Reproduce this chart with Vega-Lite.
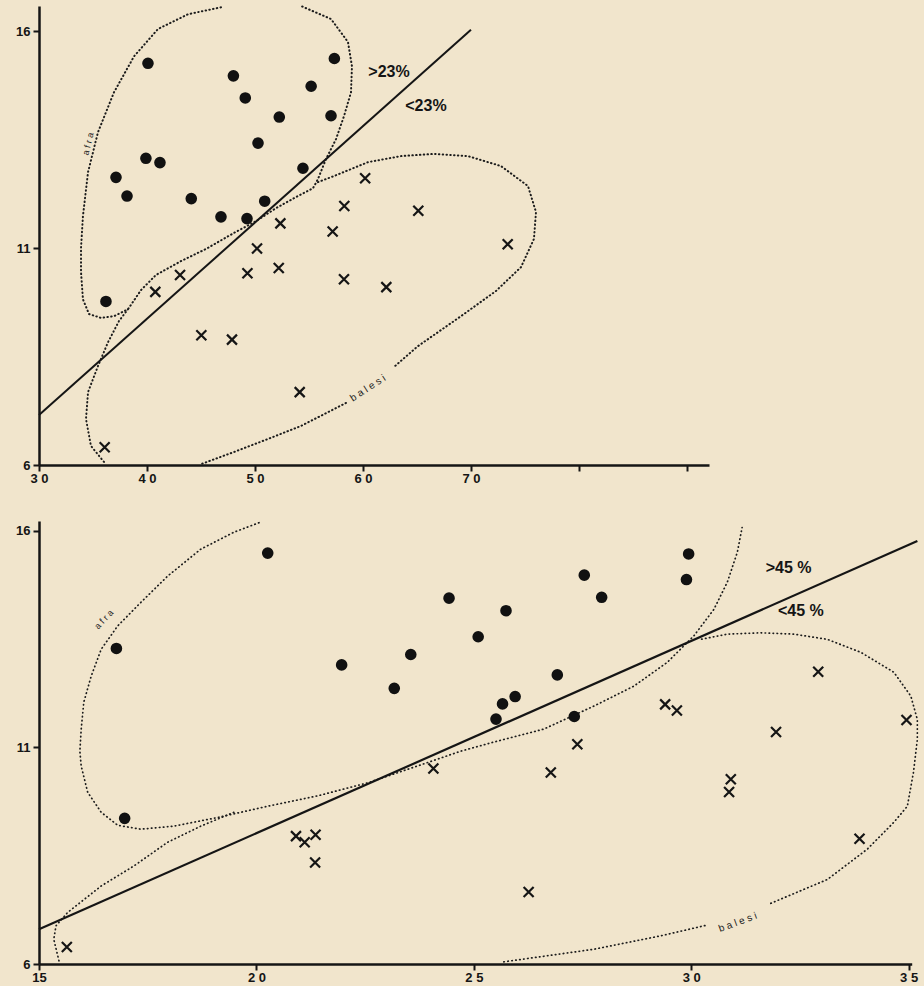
{
 "$schema": "https://vega.github.io/schema/vega-lite/v6.json",
 "background": "#f1e5cc",
 "padding": {"left": 15, "top": 2, "right": 4, "bottom": 2},
 "bounds": "flush",
 "spacing": 56,
 "config": {
  "view": {"stroke": null},
  "axis": {"grid": false, "domainColor": "#151515", "domainWidth": 2.5, "tickColor": "#151515", "tickWidth": 2, "tickSize": 6, "labelFont": "Liberation Sans", "labelFontWeight": "bold", "labelFontSize": 13, "labelColor": "#151515", "labelFlush": false, "labelOverlap": false, "labelPadding": 1, "title": null},
  "text": {"font": "Liberation Sans"}
 },
 "datasets": {
  "top_pts": [
   {"sp":"afra","x":40.09,"y":15.26},{"sp":"afra","x":48.0,"y":14.97},{"sp":"afra","x":57.35,"y":15.37},{"sp":"afra","x":55.2,"y":14.73},{"sp":"afra","x":49.1,"y":14.46},{"sp":"afra","x":52.25,"y":14.02},{"sp":"afra","x":57.04,"y":14.05},{"sp":"afra","x":50.28,"y":13.42},{"sp":"afra","x":39.9,"y":13.07},{"sp":"afra","x":41.2,"y":12.97},{"sp":"afra","x":37.13,"y":12.63},{"sp":"afra","x":54.44,"y":12.84},{"sp":"afra","x":38.15,"y":12.2},{"sp":"afra","x":44.1,"y":12.14},{"sp":"afra","x":50.9,"y":12.08},{"sp":"afra","x":46.85,"y":11.72},{"sp":"afra","x":49.26,"y":11.68},{"sp":"afra","x":36.2,"y":9.77},
   {"sp":"balesi","x":60.2,"y":12.61},{"sp":"balesi","x":58.27,"y":11.97},{"sp":"balesi","x":65.12,"y":11.86},{"sp":"balesi","x":57.19,"y":11.38},{"sp":"balesi","x":73.4,"y":11.09},{"sp":"balesi","x":52.35,"y":11.57},{"sp":"balesi","x":50.19,"y":10.99},{"sp":"balesi","x":43.06,"y":10.38},{"sp":"balesi","x":49.3,"y":10.42},{"sp":"balesi","x":52.2,"y":10.54},{"sp":"balesi","x":58.24,"y":10.28},{"sp":"balesi","x":62.16,"y":10.1},{"sp":"balesi","x":40.77,"y":9.99},{"sp":"balesi","x":45.03,"y":8.99},{"sp":"balesi","x":47.87,"y":8.89},{"sp":"balesi","x":54.14,"y":7.68},{"sp":"balesi","x":36.08,"y":6.41}
  ],
  "top_fit": [{"x":30,"y":7.15},{"x":70,"y":16.03}],
  "top_curves": [
   {"seg":"afra","o":1,"x":46.85,"y":16.55},{"seg":"afra","o":2,"x":43.8,"y":16.39},{"seg":"afra","o":3,"x":41.02,"y":16.05},{"seg":"afra","o":4,"x":38.8,"y":15.42},{"seg":"afra","o":5,"x":36.94,"y":14.59},{"seg":"afra","o":6,"x":35.46,"y":13.67},{"seg":"afra","o":7,"x":34.54,"y":12.75},{"seg":"afra","o":8,"x":34.07,"y":11.74},{"seg":"afra","o":9,"x":33.89,"y":11.0},{"seg":"afra","o":10,"x":33.89,"y":10.45},{"seg":"afra","o":11,"x":34.07,"y":9.82},{"seg":"afra","o":12,"x":34.63,"y":9.48},{"seg":"afra","o":13,"x":35.74,"y":9.39},{"seg":"afra","o":14,"x":36.94,"y":9.43},{"seg":"afra","o":15,"x":38.24,"y":9.59},{"seg":"afra","o":16,"x":39.44,"y":10.03},{"seg":"afra","o":17,"x":40.83,"y":10.38},{"seg":"afra","o":18,"x":43.15,"y":10.7},{"seg":"afra","o":19,"x":45.46,"y":10.98},{"seg":"afra","o":20,"x":48.06,"y":11.35},{"seg":"afra","o":21,"x":50.09,"y":11.62},{"seg":"afra","o":22,"x":51.94,"y":11.92},{"seg":"afra","o":23,"x":53.98,"y":12.2},{"seg":"afra","o":24,"x":55.37,"y":12.38},{"seg":"afra","o":25,"x":55.83,"y":12.59},{"seg":"afra","o":26,"x":56.57,"y":13.05},{"seg":"afra","o":27,"x":57.5,"y":13.51},{"seg":"afra","o":28,"x":58.24,"y":14.04},{"seg":"afra","o":29,"x":58.89,"y":14.59},{"seg":"afra","o":30,"x":58.98,"y":15.19},{"seg":"afra","o":31,"x":58.61,"y":15.75},{"seg":"afra","o":32,"x":57.04,"y":16.28},{"seg":"afra","o":33,"x":54.26,"y":16.58},
   {"seg":"b1","o":1,"x":55.83,"y":12.52},{"seg":"b1","o":2,"x":57.31,"y":12.66},{"seg":"b1","o":3,"x":60.46,"y":12.98},{"seg":"b1","o":4,"x":63.52,"y":13.12},{"seg":"b1","o":5,"x":66.57,"y":13.17},{"seg":"b1","o":6,"x":69.72,"y":13.12},{"seg":"b1","o":7,"x":72.78,"y":12.89},{"seg":"b1","o":8,"x":75.28,"y":12.43},{"seg":"b1","o":9,"x":76.02,"y":11.83},{"seg":"b1","o":10,"x":75.83,"y":11.21},{"seg":"b1","o":11,"x":74.63,"y":10.56},{"seg":"b1","o":12,"x":72.31,"y":10.01},{"seg":"b1","o":13,"x":69.07,"y":9.43},{"seg":"b1","o":14,"x":65.09,"y":8.74},{"seg":"b1","o":15,"x":62.78,"y":8.24},
   {"seg":"b2","o":1,"x":58.43,"y":7.43},{"seg":"b2","o":2,"x":54.26,"y":6.9},{"seg":"b2","o":3,"x":51.2,"y":6.6},{"seg":"b2","o":4,"x":48.06,"y":6.3},{"seg":"b2","o":5,"x":45.0,"y":6.02},
   {"seg":"b3","o":1,"x":36.02,"y":6.07},{"seg":"b3","o":2,"x":34.81,"y":6.44},{"seg":"b3","o":3,"x":34.35,"y":7.06},{"seg":"b3","o":4,"x":34.54,"y":7.68},{"seg":"b3","o":5,"x":35.46,"y":8.28},{"seg":"b3","o":6,"x":36.39,"y":8.83},{"seg":"b3","o":7,"x":37.41,"y":9.32},{"seg":"b3","o":8,"x":38.24,"y":9.59}
  ],
  "top_labels": [
   {"k":"pct","t":">23%","x":62.41,"y":15.06},{"k":"pct","t":"<23%","x":65.83,"y":14.27},{"k":"afra","t":"a f r a","x":34.54,"y":13.4},{"k":"balesi","t":"b a l e s i","x":60.46,"y":7.77}
  ],
  "bot_pts": [
   {"sp":"afra","x":20.26,"y":15.48},{"sp":"afra","x":16.78,"y":13.28},{"sp":"afra","x":21.96,"y":12.9},{"sp":"afra","x":23.55,"y":13.14},{"sp":"afra","x":23.17,"y":12.36},{"sp":"afra","x":24.43,"y":14.44},{"sp":"afra","x":29.94,"y":15.46},{"sp":"afra","x":29.89,"y":14.87},{"sp":"afra","x":27.54,"y":14.97},{"sp":"afra","x":27.94,"y":14.46},{"sp":"afra","x":25.74,"y":14.15},{"sp":"afra","x":25.1,"y":13.55},{"sp":"afra","x":26.92,"y":12.67},{"sp":"afra","x":25.95,"y":12.17},{"sp":"afra","x":25.66,"y":12.0},{"sp":"afra","x":25.51,"y":11.65},{"sp":"afra","x":27.31,"y":11.71},{"sp":"afra","x":16.97,"y":9.36},
   {"sp":"balesi","x":32.92,"y":12.74},{"sp":"balesi","x":29.4,"y":11.99},{"sp":"balesi","x":29.67,"y":11.85},{"sp":"balesi","x":34.95,"y":11.63},{"sp":"balesi","x":31.95,"y":11.35},{"sp":"balesi","x":27.38,"y":11.07},{"sp":"balesi","x":26.77,"y":10.42},{"sp":"balesi","x":30.91,"y":10.26},{"sp":"balesi","x":30.87,"y":9.97},{"sp":"balesi","x":33.87,"y":8.89},{"sp":"balesi","x":26.26,"y":7.66},{"sp":"balesi","x":24.07,"y":10.51},{"sp":"balesi","x":20.91,"y":8.95},{"sp":"balesi","x":21.11,"y":8.81},{"sp":"balesi","x":21.36,"y":8.98},{"sp":"balesi","x":21.35,"y":8.34},{"sp":"balesi","x":15.64,"y":6.39}
  ],
  "bot_fit": [{"x":15,"y":6.8},{"x":35.2,"y":15.76}],
  "bot_curves": [
   {"seg":"afra","o":1,"x":20.06,"y":16.18},{"seg":"afra","o":2,"x":19.48,"y":15.96},{"seg":"afra","o":3,"x":18.72,"y":15.57},{"seg":"afra","o":4,"x":17.96,"y":14.95},{"seg":"afra","o":5,"x":17.34,"y":14.34},{"seg":"afra","o":6,"x":16.81,"y":13.8},{"seg":"afra","o":7,"x":16.43,"y":13.26},{"seg":"afra","o":8,"x":16.2,"y":12.64},{"seg":"afra","o":9,"x":16.03,"y":12.04},{"seg":"afra","o":10,"x":15.97,"y":11.41},{"seg":"afra","o":11,"x":15.94,"y":10.91},{"seg":"afra","o":12,"x":15.97,"y":10.57},{"seg":"afra","o":13,"x":16.12,"y":9.96},{"seg":"afra","o":14,"x":16.43,"y":9.5},{"seg":"afra","o":15,"x":16.81,"y":9.2},{"seg":"afra","o":16,"x":17.34,"y":9.11},{"seg":"afra","o":17,"x":18.1,"y":9.18},{"seg":"afra","o":18,"x":19.11,"y":9.38},{"seg":"afra","o":19,"x":20.26,"y":9.64},{"seg":"afra","o":20,"x":21.41,"y":9.88},{"seg":"afra","o":21,"x":22.56,"y":10.18},{"seg":"afra","o":22,"x":23.71,"y":10.57},{"seg":"afra","o":23,"x":24.7,"y":10.91},{"seg":"afra","o":24,"x":25.46,"y":11.12},{"seg":"afra","o":25,"x":26.61,"y":11.42},{"seg":"afra","o":26,"x":27.76,"y":11.95},{"seg":"afra","o":27,"x":28.68,"y":12.41},{"seg":"afra","o":28,"x":29.45,"y":12.96},{"seg":"afra","o":29,"x":30.06,"y":13.57},{"seg":"afra","o":30,"x":30.52,"y":14.18},{"seg":"afra","o":31,"x":30.83,"y":14.81},{"seg":"afra","o":32,"x":31.06,"y":15.5},{"seg":"afra","o":33,"x":31.17,"y":16.07},
   {"seg":"b1","o":1,"x":19.48,"y":9.5},{"seg":"b1","o":2,"x":18.72,"y":9.18},{"seg":"b1","o":3,"x":17.96,"y":8.81},{"seg":"b1","o":4,"x":17.18,"y":8.26},{"seg":"b1","o":5,"x":16.43,"y":7.8},{"seg":"b1","o":6,"x":15.66,"y":7.19},{"seg":"b1","o":7,"x":15.39,"y":6.88},{"seg":"b1","o":8,"x":15.34,"y":6.57},{"seg":"b1","o":9,"x":15.46,"y":6.07},
   {"seg":"b2","o":1,"x":25.69,"y":6.05},{"seg":"b2","o":2,"x":27.76,"y":6.34},{"seg":"b2","o":3,"x":29.3,"y":6.65},{"seg":"b2","o":4,"x":30.33,"y":6.89},
   {"seg":"b3","o":1,"x":31.83,"y":7.4},{"seg":"b3","o":2,"x":33.13,"y":7.95},{"seg":"b3","o":3,"x":34.05,"y":8.65},{"seg":"b3","o":4,"x":34.66,"y":9.27},{"seg":"b3","o":5,"x":34.97,"y":9.64},{"seg":"b3","o":6,"x":35.11,"y":10.42},{"seg":"b3","o":7,"x":35.2,"y":11.18},{"seg":"b3","o":8,"x":35.2,"y":11.64},{"seg":"b3","o":9,"x":35.05,"y":12.18},{"seg":"b3","o":10,"x":34.66,"y":12.73},{"seg":"b3","o":11,"x":33.9,"y":13.19},{"seg":"b3","o":12,"x":33.13,"y":13.49},{"seg":"b3","o":13,"x":32.36,"y":13.61},{"seg":"b3","o":14,"x":31.6,"y":13.64},{"seg":"b3","o":15,"x":30.83,"y":13.61},{"seg":"b3","o":16,"x":30.22,"y":13.49}
  ],
  "bot_labels": [
   {"k":"pct","t":">45 %","x":32.24,"y":15.13},{"k":"pct","t":"<45 %","x":32.52,"y":14.14},{"k":"afra","t":"a f r a","x":16.49,"y":13.95},{"k":"balesi","t":"b a l e s i","x":31.07,"y":6.96}
  ]
 },
 "vconcat": [
  {
   "width": 670, "height": 459,
   "encoding": {
    "x": {"field":"x","type":"quantitative","scale":{"domain":[30,92.04],"nice":false,"zero":false},"axis":{"values":[30,40,50,60,70,80,90],"labelExpr":"datum.value >= 80 ? '' : substring(datum.label,0,1) + ' ' + substring(datum.label,1)"}},
    "y": {"field":"y","type":"quantitative","scale":{"domain":[6,16.58],"nice":false,"zero":false},"axis":{"values":[6,11,16],"labelPadding":3}}
   },
   "layer": [
    {"data":{"name":"top_curves"},"mark":{"type":"line","stroke":"#1c1c1c","strokeWidth":2,"strokeDash":[0.5,3.3],"strokeCap":"round"},"encoding":{"detail":{"field":"seg"},"order":{"field":"o","type":"quantitative"}}},
    {"data":{"name":"top_fit"},"mark":{"type":"line","stroke":"#151515","strokeWidth":2},"encoding":{}},
    {"data":{"name":"top_pts"},"transform":[{"filter":"datum.sp == 'afra'"}],"mark":{"type":"circle","size":135,"color":"#111111","opacity":1}},
    {"data":{"name":"top_pts"},"transform":[{"filter":"datum.sp == 'balesi'"}],"mark":{"type":"point","shape":"M-1,-1L1,1M-1,1L1,-1","size":100,"filled":false,"stroke":"#151515","strokeWidth":2.2,"opacity":1}},
    {"data":{"name":"top_labels"},"transform":[{"filter":"datum.k == 'pct'"}],"mark":{"type":"text","fontSize":16,"fontWeight":"bold","color":"#151515"},"encoding":{"text":{"field":"t"}}},
    {"data":{"name":"top_labels"},"transform":[{"filter":"datum.k == 'afra'"}],"mark":{"type":"text","fontSize":9,"angle":284,"color":"#222222"},"encoding":{"text":{"field":"t"}}},
    {"data":{"name":"top_labels"},"transform":[{"filter":"datum.k == 'balesi'"}],"mark":{"type":"text","fontSize":10,"angle":327,"color":"#222222"},"encoding":{"text":{"field":"t"}}}
   ]
  },
  {
   "width": 872.7, "height": 443,
   "encoding": {
    "x": {"field":"x","type":"quantitative","scale":{"domain":[15,35.07],"nice":false,"zero":false},"axis":{"values":[15,20,25,30,35],"labelExpr":"datum.value == 15 ? '15' : substring(datum.label,0,1) + ' ' + substring(datum.label,1)"}},
    "y": {"field":"y","type":"quantitative","scale":{"domain":[6,16.22],"nice":false,"zero":false},"axis":{"values":[6,11,16],"labelPadding":3}}
   },
   "layer": [
    {"data":{"name":"bot_curves"},"mark":{"type":"line","stroke":"#1c1c1c","strokeWidth":1.7,"strokeDash":[0.5,3.5],"strokeCap":"round"},"encoding":{"detail":{"field":"seg"},"order":{"field":"o","type":"quantitative"}}},
    {"data":{"name":"bot_fit"},"mark":{"type":"line","stroke":"#151515","strokeWidth":2.2},"encoding":{}},
    {"data":{"name":"bot_pts"},"transform":[{"filter":"datum.sp == 'afra'"}],"mark":{"type":"circle","size":135,"color":"#111111","opacity":1}},
    {"data":{"name":"bot_pts"},"transform":[{"filter":"datum.sp == 'balesi'"}],"mark":{"type":"point","shape":"M-1,-1L1,1M-1,1L1,-1","size":100,"filled":false,"stroke":"#151515","strokeWidth":2.2,"opacity":1}},
    {"data":{"name":"bot_labels"},"transform":[{"filter":"datum.k == 'pct'"}],"mark":{"type":"text","fontSize":16,"fontWeight":"bold","color":"#151515"},"encoding":{"text":{"field":"t"}}},
    {"data":{"name":"bot_labels"},"transform":[{"filter":"datum.k == 'afra'"}],"mark":{"type":"text","fontSize":9,"angle":313,"color":"#222222"},"encoding":{"text":{"field":"t"}}},
    {"data":{"name":"bot_labels"},"transform":[{"filter":"datum.k == 'balesi'"}],"mark":{"type":"text","fontSize":10,"angle":340,"color":"#222222"},"encoding":{"text":{"field":"t"}}}
   ]
  }
 ]
}
